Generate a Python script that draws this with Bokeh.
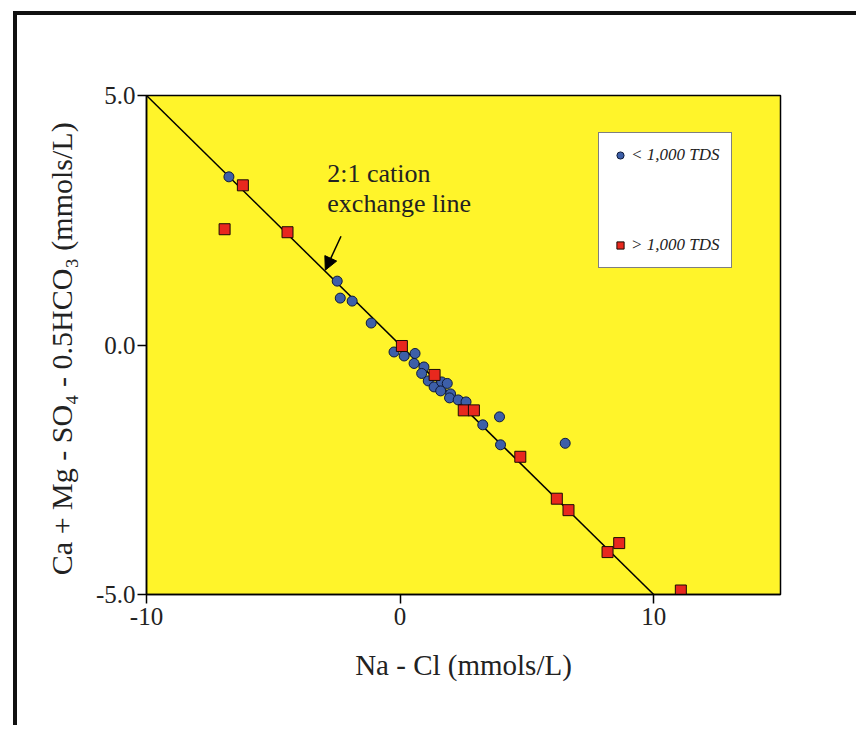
from bokeh.plotting import figure
from bokeh.models import (Range1d, FixedTicker, Label, Arrow, NormalHead,
                          Legend, LegendItem)
from bokeh.embed import file_html
from bokeh.resources import INLINE

# ---- data ----
low_tds_x = [-6.75, -2.48, -2.36, -1.89, -1.14, -0.24, 0.16, 0.59, 0.55, 0.94,
             0.85, 1.11, 1.34, 1.64, 1.86, 1.60, 1.99, 1.95, 2.29, 2.60,
             3.26, 3.92, 3.96, 6.51]
low_tds_y = [3.37, 1.28, 0.94, 0.88, 0.44, -0.14, -0.22, -0.17, -0.37, -0.44,
             -0.57, -0.72, -0.84, -0.74, -0.77, -0.92, -0.98, -1.06, -1.10, -1.14,
             -1.60, -1.44, -2.00, -1.97]

high_tds_x = [-6.92, -6.20, -4.44, 0.07, 1.36, 2.51, 2.91, 4.74, 6.18, 6.64,
              8.18, 8.64, 11.07]
high_tds_y = [2.32, 3.20, 2.26, -0.02, -0.60, -1.31, -1.31, -2.24, -3.08, -3.31,
              -4.15, -3.97, -4.92]

exchange_line_x = [-10, 10]
exchange_line_y = [5, -5]

x_ticks = [-10, 0, 10]
x_tick_labels = ["-10", "0", "10"]
y_ticks = [-5, 0, 5]
y_tick_labels = ["-5.0", "0.0", "5.0"]

legend_labels = ["< 1,000 TDS", "> 1,000 TDS"]
x_label = "Na - Cl (mmols/L)"
y_label = "Ca + Mg  - SO\u2084 - 0.5HCO\u2083 (mmols/L)"
note_lines = ["2:1 cation", "exchange line"]

FONT = "Liberation Serif"

p = figure(width=856, height=725, x_range=Range1d(-10, 15), y_range=Range1d(-5, 5),
           output_backend="svg", toolbar_location=None,
           min_border_left=146, min_border_right=76, min_border_top=95,
           min_border_bottom=131)
p.styles = {"background-color": "white",
            "box-shadow": "inset 13px 11px 0 0 white, inset 17px 15px 0 0 #111111"}

p.background_fill_color = "#FFF42A"
p.border_fill_alpha = 0
p.outline_line_color = "black"
p.outline_line_width = 1.5
p.xgrid.visible = False
p.ygrid.visible = False

for ax in (p.xaxis[0], p.yaxis[0]):
    ax.axis_line_width = 1.5
    ax.major_tick_line_width = 1.5
    ax.major_tick_out = 9
    ax.major_tick_in = 0
    ax.minor_tick_line_color = None
    ax.major_label_text_font = FONT
    ax.major_label_text_font_size = "25px"
    ax.major_label_text_color = "#222222"
    ax.axis_label_text_font = FONT
    ax.axis_label_text_font_style = "normal"
    ax.axis_label_text_color = "#222222"

p.xaxis.axis_label_text_font_size = "29px"
p.yaxis.axis_label_text_font_size = "30px"
p.xaxis.ticker = FixedTicker(ticks=x_ticks, minor_ticks=[])
p.yaxis.ticker = FixedTicker(ticks=y_ticks, minor_ticks=[])
p.xaxis.major_label_overrides = {t: l for t, l in zip(x_ticks, x_tick_labels)}
p.yaxis.major_label_overrides = {t: l for t, l in zip(y_ticks, y_tick_labels)}
p.xaxis.axis_label = x_label
p.yaxis.axis_label = y_label
p.xaxis.axis_label_standoff = 21
p.yaxis.axis_label_standoff = 15
p.xaxis.major_label_standoff = 4
p.yaxis.major_label_standoff = 2

p.line(exchange_line_x, exchange_line_y, line_color="black", line_width=1.5)

r_low = p.scatter(low_tds_x, low_tds_y, marker="circle", size=10,
                  fill_color="#3D5FA8", line_color="#0E1A3A", line_width=1)
r_high = p.scatter(high_tds_x, high_tds_y, marker="square", size=11,
                   fill_color="#E8281E", line_color="#1A0A05", line_width=1)

p.add_layout(Label(x=-2.87, y=3.15, text=note_lines[0], text_font=FONT,
                   text_font_size="26px", text_color="#222222"))
p.add_layout(Label(x=-2.87, y=2.55, text=note_lines[1], text_font=FONT,
                   text_font_size="26px", text_color="#222222"))
p.add_layout(Arrow(x_start=-2.33, y_start=2.18, x_end=-2.95, y_end=1.50,
                   line_color="black", line_width=1.5,
                   end=NormalHead(size=13, fill_color="black", line_color="black")))

legend = Legend(items=[LegendItem(label=legend_labels[0], renderers=[r_low]),
                       LegendItem(label=legend_labels[1], renderers=[r_high])],
                location=(452, 326), orientation="vertical",
                label_text_font=FONT, label_text_font_size="17px",
                label_text_font_style="italic", label_text_color="#222222",
                glyph_width=18, glyph_height=20, label_height=20, label_standoff=2,
                padding=12, spacing=70, margin=0,
                border_line_color="black", border_line_width=1.5,
                background_fill_color="white", background_fill_alpha=1)
p.add_layout(legend)

open("out.html", "w").write(file_html(p, INLINE))
